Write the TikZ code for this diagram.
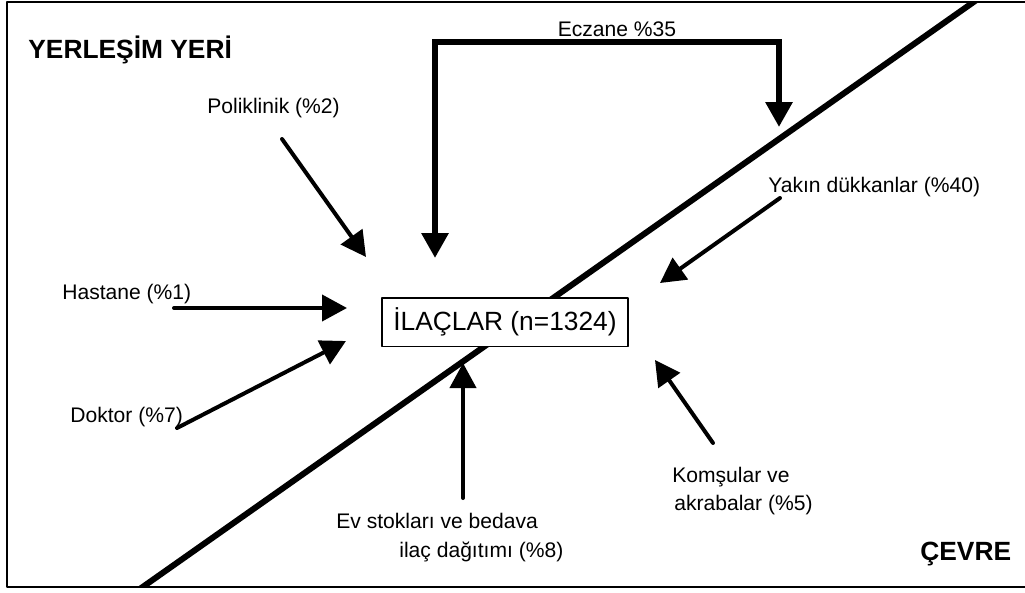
\documentclass[tikz,border=0pt]{standalone}
\usepackage{fontspec}
\setmainfont{Liberation Sans}
\usetikzlibrary{arrows.meta}

\begin{document}
\begin{tikzpicture}[x=0.02cm,y=-0.02cm,line cap=round,line join=round,
    lbl/.style={font=\fontsize{12}{14}\selectfont,anchor=base west,inner sep=0pt},
    zone/.style={font=\fontsize{15}{18}\selectfont\bfseries,anchor=base west,inner sep=0pt},
    head/.style={Triangle[length=0.5cm,width=0.52cm]},
    flow/.style={line width=0.08cm,-{Triangle[length=0.5cm,width=0.52cm]}},
    bigflow/.style={line width=0.12cm,line join=miter,line cap=butt}]
  \useasboundingbox (0,0) rectangle (1025,592);

  % frame and border between the two zones
  \draw[line width=0.05cm] (7,2) rectangle (1032,587);
  \begin{scope}
    \clip (7,2) rectangle (1032,587);
    \draw[line width=0.12cm] (127,598) -- (985,-6);
  \end{scope}

  \node[zone] (yerlesim) at (28,58) {YERLEŞİM YERİ};
  \node[zone] (cevre) at (920,560) {ÇEVRE};

  \node[draw,fill=white,line width=0.04cm,minimum width=4.92cm,minimum height=0.98cm,
        font=\fontsize{15}{18}\selectfont] (ilac) at (505,322) {İLAÇLAR (n=1324)};

  \node[lbl,anchor=base] (eczane) at (617,36) {Eczane \%35};
  \node[lbl] (poli) at (207,113) {Poliklinik (\%2)};
  \node[lbl] (hastane) at (62,299) {Hastane (\%1)};
  \node[lbl] (doktor) at (70,422) {Doktor (\%7)};
  \node[lbl] (ev1) at (336,528) {Ev stokları ve bedava};
  \node[lbl] (ev2) at (399,557) {ilaç dağıtımı (\%8)};
  \node[lbl] (yakin) at (768,192) {Yakın dükkanlar (\%40)};
  \node[lbl] (komsu1) at (672,482) {Komşular ve};
  \node[lbl] (komsu2) at (674,510) {akrabalar (\%5)};

  \coordinate (eczL) at (435,258);
  \coordinate (eczT) at (435,42);
  \coordinate (eczR) at (779,127);
  \draw[bigflow,{Triangle[length=0.5cm,width=0.52cm]}-{Triangle[length=0.5cm,width=0.52cm]}]
    (eczL) -- (eczT) -| (eczR);

  \coordinate (poliA) at (282,139);   \coordinate (poliB) at (366,257);
  \coordinate (hastA) at (174,308);   \coordinate (hastB) at (347,308);
  \coordinate (dokA) at (177,428);    \coordinate (dokB) at (346,341);
  \coordinate (evA) at (463,498);     \coordinate (evB) at (463,363);
  \coordinate (yakA) at (780,198);    \coordinate (yakB) at (660,283);
  \coordinate (komA) at (713,443);    \coordinate (komB) at (655,360);

  \draw[flow] (poliA) -- (poliB);
  \draw[flow] (hastA) -- (hastB);
  \draw[flow] (dokA) -- (dokB);
  \draw[flow] (evA) -- (evB);
  \draw[flow] (yakA) -- (yakB);
  \draw[flow] (komA) -- (komB);
\end{tikzpicture}
\end{document}
